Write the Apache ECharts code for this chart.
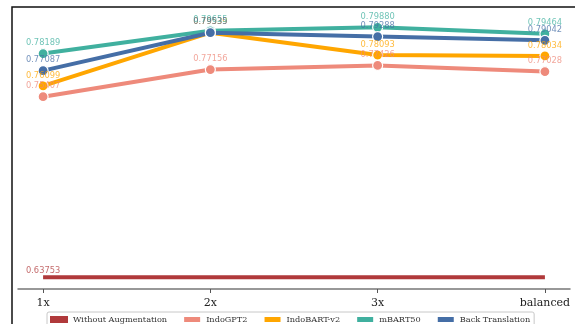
<!DOCTYPE html>
<html>
<head>
<meta charset="utf-8">
<script src="https://cdn.jsdelivr.net/npm/echarts@6/dist/echarts.min.js"></script>
<style>
  html, body { margin: 0; padding: 0; background: #fff; }
  #chart { width: 575px; height: 324px; }
</style>
</head>
<body>
<div id="chart"></div>
<script>
// Augmentation ratio on the x axis
const categories = ['1x', '2x', '3x', 'balanced'];

// Scores per augmentation method
const withoutAugmentation = [0.63753, 0.63753, 0.63753, 0.63753];
const indoGPT2 = [0.75407, 0.77156, 0.77426, 0.77028];
const indoBARTv2 = [0.76099, 0.79539, 0.78093, 0.78034];
const mBART50 = [0.78189, 0.79655, 0.79880, 0.79464];
const backTranslation = [0.77087, 0.79535, 0.79288, 0.79042];

const seriesDefs = [
  { name: 'Without Augmentation', values: withoutAugmentation, color: '#b0393b', labelFirstOnly: true, marker: false },
  { name: 'IndoGPT2', values: indoGPT2, color: '#ee8a7b' },
  { name: 'IndoBART-v2', values: indoBARTv2, color: '#ffa600' },
  { name: 'mBART50', values: mBART50, color: '#40b09f' },
  { name: 'Back Translation', values: backTranslation, color: '#456ea6' }
];

const chart = echarts.init(document.getElementById('chart'), null, { renderer: 'canvas' });

const series = seriesDefs.map(function (d) {
  return {
    name: d.name,
    type: 'line',
    data: d.values.map(function (v, i) { return [i, v]; }),
    showSymbol: true,
    symbol: 'circle',
    symbolSize: d.marker === false ? 0.1 : 10,
    lineStyle: { color: d.color, width: 4 },
    itemStyle: { color: d.color, borderColor: '#ffffff', borderWidth: d.marker === false ? 0 : 1.2 },
    label: {
      show: true,
      position: 'top',
      distance: d.marker === false ? 2 : 1,
      color: d.color,
      opacity: 0.75,
      fontFamily: 'DejaVu Sans',
      fontSize: 8.3,
      formatter: function (p) {
        if (d.labelFirstOnly && p.dataIndex !== 0) return '';
        return p.value[1].toFixed(5);
      }
    },
    emphasis: { disabled: true },
    animation: false
  };
});

chart.setOption({
  backgroundColor: '#ffffff',
  animation: false,
  color: seriesDefs.map(function (d) { return d.color; }),
  grid: { left: 18, right: 5, top: 10, height: 279 },
  xAxis: {
    type: 'value',
    min: -0.15,
    max: 3.15,
    splitLine: { show: false },
    axisLine: { show: true, onZero: false, lineStyle: { color: '#777', width: 1.5 } },
    axisTick: { show: true, customValues: [0, 1, 2, 3], length: 4, lineStyle: { color: '#555', width: 1 } },
    axisLabel: {
      customValues: [0, 1, 2, 3],
      formatter: function (v) { return categories[Math.round(v)]; },
      color: '#222',
      fontFamily: 'DejaVu Serif',
      fontSize: 11,
      margin: 9
    }
  },
  yAxis: {
    type: 'value',
    min: 0.63,
    max: 0.81,
    show: false,
    splitLine: { show: false }
  },
  legend: {
    top: 312,
    left: 47,
    width: 520,
    icon: 'rect',
    itemWidth: 18,
    itemHeight: 7,
    itemGap: 15,
    padding: [3, 4, 8, 3],
    borderColor: '#c8c8c8',
    borderWidth: 1,
    borderRadius: 2,
    textStyle: { fontFamily: 'DejaVu Serif', fontSize: 8.2, color: '#333' },
    data: seriesDefs.map(function (d) { return d.name; })
  },
  graphic: [
    {
      type: 'rect',
      shape: { x: 12, y: 7, width: 700, height: 400 },
      style: { fill: null, stroke: '#111', lineWidth: 1.5 },
      z: 100,
      silent: true
    }
  ],
  series: series
});
</script>
</body>
</html>
